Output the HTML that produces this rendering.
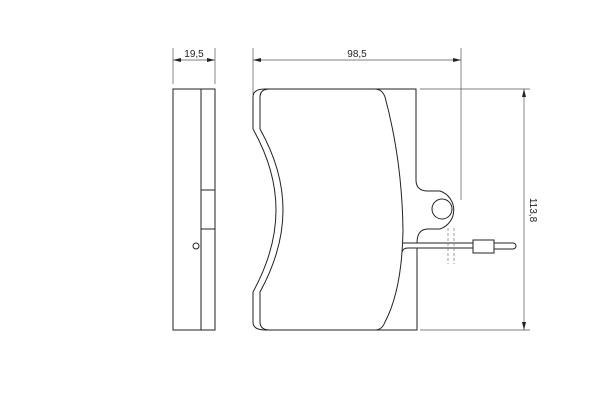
<!DOCTYPE html><html><head><style>body{margin:0;background:#fff}svg{display:block}</style></head><body>
<svg width="600" height="400" viewBox="0 0 600 400" xmlns="http://www.w3.org/2000/svg" font-family="Liberation Sans, sans-serif" font-size="10" fill="none" stroke="#222" stroke-width="1">
<g stroke="#555" stroke-width="0.7">
<line x1="173" y1="48" x2="173" y2="84"/><line x1="215" y1="48" x2="215" y2="84"/>
<line x1="173" y1="60" x2="215" y2="60"/>
<line x1="253" y1="48" x2="253" y2="95"/><line x1="461" y1="48" x2="461" y2="200"/>
<line x1="253" y1="60" x2="461" y2="60"/>
<line x1="420" y1="89" x2="530" y2="89"/><line x1="420" y1="330" x2="530" y2="330"/>
<line x1="524" y1="89" x2="524" y2="330"/>
</g>
<g fill="#222" stroke="none">
<polygon points="173,60 181,58 181,62"/><polygon points="215,60 207,58 207,62"/>
<polygon points="253,60 261,58 261,62"/><polygon points="461,60 453,58 453,62"/>
<polygon points="524,89 522,97 526,97"/><polygon points="524,330 522,322 526,322"/>
<text x="194" y="57" text-anchor="middle">19,5</text>
<text x="357" y="57" text-anchor="middle">98,5</text>
<text transform="translate(530,210) rotate(90)" text-anchor="middle">113,8</text>
</g>
<rect x="173" y="89" width="42" height="241"/>
<line x1="201" y1="89" x2="201" y2="330"/>
<line x1="201" y1="190" x2="215" y2="190"/><line x1="201" y1="229" x2="215" y2="229"/>
<circle cx="196" cy="246" r="3"/>
<path d="M265,89 H416 V180 Q416,191 428,191 H440 A20,20 0 0 1 440,229 H428 Q417,229 417,243 M417,248 V330 H265 Q253,330 253,322 V292 Q276,250 276,210 Q276,170 253,129 V97 Q253,89 265,89"/>
<path d="M270,89 H375 Q382,89 385,97 Q402,160 403,230 Q402,290 385,322 Q382,330 375,330 H270 Q260,330 260,322 V292 Q283,250 283,210 Q283,170 260,129 V97 Q260,89 270,89"/>
<circle cx="442" cy="209" r="10"/>
<path d="M403,243 H473 M473,248 H408 Q403,248 402,252"/>
<rect x="473" y="240" width="21" height="13"/>
<path d="M494,243 H513 A3,3 0 0 1 513,249 H494"/>
<g stroke="#777" stroke-width="0.7" stroke-dasharray="3,2"><line x1="448" y1="228" x2="448" y2="264"/><line x1="454" y1="228" x2="454" y2="264"/></g>
</svg></body></html>
